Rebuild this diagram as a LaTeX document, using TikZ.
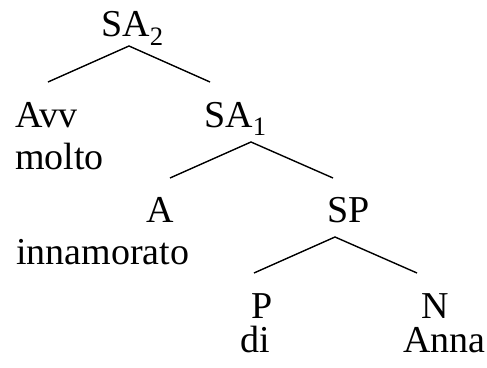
\documentclass[tikz,border=0pt]{standalone}
\usepackage{fontspec}
\setmainfont{Liberation Serif}
\begin{document}
\begin{tikzpicture}[x=1pt, y=-1pt,
  word/.style={anchor=base west, inner sep=0pt, font=\fontsize{38}{45}\selectfont},
  branch/.style={line width=1.4pt}]
\useasboundingbox (0,0) rectangle (487,367);
% labels and words
\node[word] (sa2) at (101,36) {SA\textsubscript{2}};
\node[word] (avv) at (15,127) {Avv};
\node[word] (molto) at (15,169) {molto};
\node[word] (sa1) at (204,127) {SA\textsubscript{1}};
\node[word] (a) at (146,222) {A};
\node[word] (innamorato) at (16,264) {innamorato};
\node[word] (sp) at (327,222) {SP};
\node[word] (p) at (251,318) {P};
\node[word] (di) at (240,352) {di};
\node[word] (n) at (421,318) {N};
\node[word] (anna) at (403,352) {Anna};
% branch points
\coordinate (sa2top) at (129,46);
\coordinate (sa2l) at (48,82);
\coordinate (sa2r) at (210,82);
\coordinate (sa1top) at (251,142);
\coordinate (sa1l) at (170,178);
\coordinate (sa1r) at (333,178);
\coordinate (sptop) at (335,237);
\coordinate (spl) at (254,273);
\coordinate (spr) at (417,273);
% branches
\draw[branch] (sa2l) -- (sa2top) -- (sa2r);
\draw[branch] (sa1l) -- (sa1top) -- (sa1r);
\draw[branch] (spl) -- (sptop) -- (spr);
\end{tikzpicture}
\end{document}
